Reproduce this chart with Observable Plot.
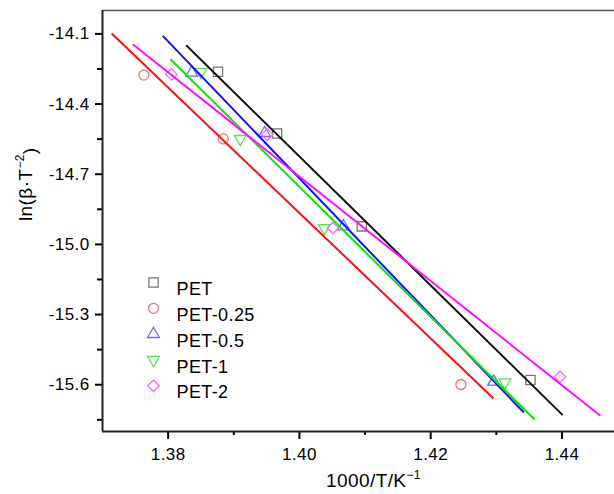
<!DOCTYPE html>
<html><head><meta charset="utf-8">
<script src="https://cdn.jsdelivr.net/npm/d3@7"></script>
<script src="https://cdn.jsdelivr.net/npm/@observablehq/plot@0.6"></script>
<style>
body{margin:0;background:#fff;}
svg text{letter-spacing:0.4px;}
</style>
</head><body><div id="chart"></div>
<script>
// ---- data ----
const seriesNames = ["PET", "PET-0.25", "PET-0.5", "PET-1", "PET-2"];
const petX = [1.3876, 1.3966, 1.4095, 1.4352];
const petY = [-14.262, -14.526, -14.923, -15.580];
const pet025X = [1.3763, 1.3884, 1.4246];
const pet025Y = [-14.276, -14.549, -15.599];
const pet05X = [1.3836, 1.3947, 1.4067, 1.4296];
const pet05Y = [-14.266, -14.524, -14.923, -15.587];
const pet1X = [1.3850, 1.3910, 1.4038, 1.4313];
const pet1Y = [-14.262, -14.549, -14.930, -15.590];
const pet2X = [1.3805, 1.3951, 1.4051, 1.4397];
const pet2Y = [-14.273, -14.530, -14.930, -15.566];
// fitted line end points
const lineX1 = [1.38275, 1.3714, 1.37919, 1.38035, 1.37461];
const lineY1 = [-14.1486, -14.0987, -14.1086, -14.2086, -14.144];
const lineX2 = [1.44011, 1.42957, 1.4342, 1.43583, 1.44585];
const lineY2 = [-15.730, -15.659, -15.719, -15.749, -15.733];
// ticks
const xMajor = [1.38, 1.40, 1.42, 1.44];
const xMinor = [1.39, 1.41, 1.43];
const yMajor = [-14.1, -14.4, -14.7, -15.0, -15.3, -15.6];
const yMinor = [-14.25, -14.55, -14.85, -15.15, -15.45, -15.75];
const xTitle = ["1000/T/K", "−1"];
const yTitle = ["ln(β·T", "−2", ")"];

// ---- styles ----
const markerColors = ["#777777", "#f07070", "#6a6aff", "#55e055", "#ff66ff"];
const lineColors = ["#111111", "#ff1010", "#1010ff", "#10e010", "#ff10ff"];
const markerR = [5.2, 5.0, 4.4, 4.4, 5.2];
const sqrt3 = Math.sqrt(3);
const triangleDown = {
  draw(context, size) {
    const y = -Math.sqrt(size / (sqrt3 * 3));
    context.moveTo(0, -y * 2);
    context.lineTo(-sqrt3 * y, y);
    context.lineTo(sqrt3 * y, y);
    context.closePath();
  }
};
const symbols = ["square", "circle", "triangle", triangleDown, "diamond2"];

const xs = [petX, pet025X, pet05X, pet1X, pet2X];
const ys = [petY, pet025Y, pet05Y, pet1Y, pet2Y];
const points = [];
xs.forEach((arr, i) => arr.forEach((x, j) => points.push({s: i, x, y: ys[i][j]})));
const lines = seriesNames.map((name, i) => ({s: i, x1: lineX1[i], y1: lineY1[i], x2: lineX2[i], y2: lineY2[i]}));

const marks = [
  Plot.axisX({ticks: xMajor, tickSize: 8, tickPadding: 8, tickFormat: d => d.toFixed(2), label: null, strokeWidth: 2, fontSize: 17}),
  Plot.axisX({ticks: xMinor, tickSize: 4, tickFormat: () => "", label: null, strokeWidth: 2}),
  Plot.axisY({ticks: yMajor, tickSize: 7, tickPadding: 6, tickFormat: d => d.toFixed(1), label: null, strokeWidth: 2, fontSize: 17}),
  Plot.axisY({ticks: yMinor, tickSize: 5, tickFormat: () => "", label: null, strokeWidth: 2}),
  Plot.ruleY([-14.0], {stroke: "#555", strokeWidth: 1.6}),
  Plot.ruleX([1.37], {stroke: "#222", strokeWidth: 2}),
  Plot.ruleY([-15.8], {stroke: "#222", strokeWidth: 2})
];
seriesNames.forEach((name, i) => {
  marks.push(Plot.dot(points.filter(p => p.s === i), {x: "x", y: "y", symbol: () => symbols[i], stroke: markerColors[i], strokeWidth: 1.3, r: markerR[i]}));
});
seriesNames.forEach((name, i) => {
  marks.push(Plot.link(lines.filter(l => l.s === i), {x1: "x1", y1: "y1", x2: "x2", y2: "y2", stroke: lineColors[i], strokeWidth: 2}));
});
// legend
seriesNames.forEach((name, i) => {
  marks.push(Plot.dot([name], {frameAnchor: "top-left", dx: 51, dy: 272 + i * 25.8, symbol: () => symbols[i], stroke: markerColors[i], strokeWidth: 1.3, r: markerR[i]}));
  marks.push(Plot.text([name], {frameAnchor: "top-left", dx: 74, dy: 272 + i * 25.8, text: d => d, textAnchor: "start", fontSize: 18, fill: "black"}));
});
// axis titles
marks.push(Plot.text([xTitle.join("")], {frameAnchor: "bottom", dx: 15, dy: 55, text: d => d, fontSize: 19, fill: "black", className: "xtitle"}));
marks.push(Plot.text([yTitle.join("")], {frameAnchor: "left", dx: -77, dy: 0, rotate: -90, text: d => d, fontSize: 19, fill: "black", className: "ytitle"}));

const chart = Plot.plot({
  width: 614, height: 494,
  marginLeft: 102, marginRight: 0, marginTop: 10, marginBottom: 63,
  style: {fontFamily: "'Liberation Sans', Arial, sans-serif", background: "white", color: "black", overflow: "visible"},
  x: {domain: [1.37, 1.448]},
  y: {domain: [-15.8, -14.0]},
  symbol: {type: "identity"},
  marks
});
// turn the exponent parts of the titles into superscripts
function superscript(sel, parts, supIdx) {
  d3.select(chart).selectAll(sel + " text").each(function() {
    const t = d3.select(this);
    t.text(null);
    parts.forEach((p, k) => {
      const ts = t.append("tspan").text(p);
      if (supIdx.includes(k)) ts.attr("font-size", "12").attr("dy", "-0.65em");
      else if (k > 0 && supIdx.includes(k - 1)) ts.attr("dy", "0.65em").attr("font-size", "19");
    });
  });
}
document.getElementById("chart").appendChild(chart);
superscript(".xtitle", xTitle, [1]);
superscript(".ytitle", yTitle, [1]);
</script>
</body></html>
